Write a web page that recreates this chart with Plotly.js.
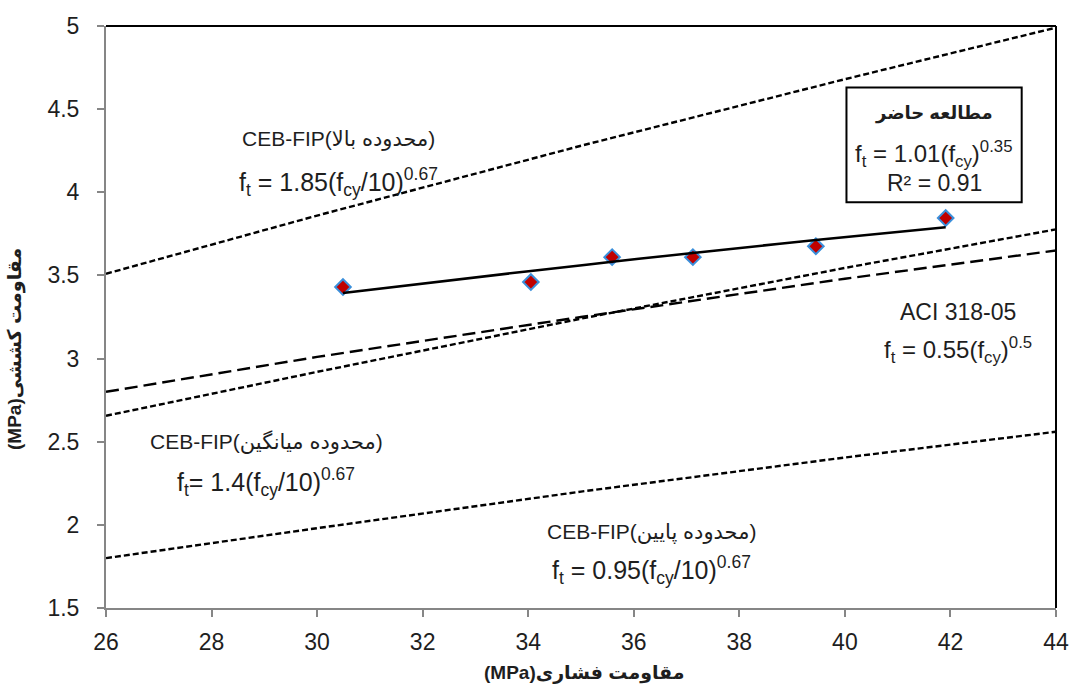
<!DOCTYPE html>
<html>
<head>
<meta charset="utf-8">
<script src="https://cdn.plot.ly/plotly-3.0.1.min.js"></script>
</head>
<body style="margin:0;background:#fff">
<div id="chart" style="width:1072px;height:684px"></div>
<script>
// Measured data (compressive strength vs tensile strength)
const fcy = [30.49, 34.05, 35.59, 37.12, 39.45, 41.91];
const ft = [3.43, 3.46, 3.61, 3.61, 3.675, 3.845];
// Power trendline read at the same x positions
const fitY = [3.395, 3.527, 3.582, 3.635, 3.713, 3.79];
// Reference code lines
const refX = [26, 30, 35, 40, 44];
const cebUpper = [3.51, 3.86, 4.28, 4.68, 4.99];
const cebMean = [2.656, 2.92, 3.24, 3.545, 3.777];
const cebLower = [1.80, 1.98, 2.20, 2.405, 2.56];
const aci = [2.80, 3.01, 3.25, 3.48, 3.65];

const xTitle = '(MPa)مقاومت فشاری';
const yTitle = '(MPa)مقاومت کششی';

const FONT = 'Liberation Sans, Arial, DejaVu Sans, sans-serif';
const TXT = '#1e1e1e';

const traces = [
  {x: refX, y: cebUpper, mode: 'lines', line: {color: '#000', width: 2.4, dash: '6px,3px'}, hoverinfo: 'skip'},
  {x: refX, y: cebMean, mode: 'lines', line: {color: '#000', width: 2.4, dash: '6px,3px'}, hoverinfo: 'skip'},
  {x: refX, y: cebLower, mode: 'lines', line: {color: '#000', width: 2.4, dash: '6px,3px'}, hoverinfo: 'skip'},
  {x: refX, y: aci, mode: 'lines', line: {color: '#000', width: 2.4, dash: '13px,6px'}, hoverinfo: 'skip'},
  {x: fcy, y: ft, mode: 'markers', marker: {symbol: 'diamond', size: 12, color: '#C00000', line: {color: '#3A8FDB', width: 2}}},
  {x: fcy, y: fitY, mode: 'lines', line: {color: '#000', width: 2.5, shape: 'spline'}, hoverinfo: 'skip'}
];

function ann(x, y, text, size, bold) {
  return {x: x, y: y, xref: 'x', yref: 'y', text: bold ? '<b>' + text + '</b>' : text, showarrow: false,
    font: {family: FONT, size: size, color: TXT}, xanchor: 'center', yanchor: 'middle'};
}

const annotations = [
  ann(30.41, 4.32, 'CEB-FIP(محدوده بالا)', 21),
  ann(30.41, 4.06, 'f<sub>t</sub> = 1.85(f<sub>cy</sub>/10)<sup>0.67</sup>', 25),
  ann(29.04, 2.50, 'CEB-FIP(محدوده میانگین)', 21),
  ann(29.04, 2.26, 'f<sub>t</sub>= 1.4(f<sub>cy</sub>/10)<sup>0.67</sup>', 25),
  ann(36.34, 1.96, 'CEB-FIP(محدوده پایین)', 21),
  ann(36.34, 1.73, 'f<sub>t</sub> = 0.95(f<sub>cy</sub>/10)<sup>0.67</sup>', 25),
  ann(42.14, 3.28, 'ACI 318-05', 23),
  ann(42.14, 3.05, 'f<sub>t</sub> = 0.55(f<sub>cy</sub>)<sup>0.5</sup>', 24),
  ann(41.69, 4.475, 'مطالعه حاضر', 18, true),
  ann(41.69, 4.233, 'f<sub>t</sub> = 1.01(f<sub>cy</sub>)<sup>0.35</sup>', 24),
  ann(41.69, 4.053, 'R² = 0.91', 23),
  {x: 0.504, y: -0.1117, xref: 'paper', yref: 'paper', text: '<b>' + xTitle + '</b>', showarrow: false,
   font: {family: FONT, size: 19, color: TXT}, xanchor: 'center', yanchor: 'middle'},
  {x: -0.0958, y: 0.445, xref: 'paper', yref: 'paper', text: '<b>' + yTitle + '</b>', showarrow: false, textangle: -90,
   font: {family: FONT, size: 19, color: TXT}, xanchor: 'center', yanchor: 'middle'}
];

const shapes = [
  {type: 'line', xref: 'paper', yref: 'paper', x0: 0, x1: 1, y0: 1, y1: 1, line: {color: '#000', width: 2}},
  {type: 'line', xref: 'paper', yref: 'paper', x0: 1, x1: 1, y0: 0, y1: 1, line: {color: '#000', width: 2}},
  {type: 'rect', xref: 'x', yref: 'y', x0: 40.03, x1: 43.35, y0: 3.94, y1: 4.63, line: {color: '#000', width: 2}, fillcolor: 'rgba(0,0,0,0)'}
];

const axisCommon = {
  showgrid: false, zeroline: false, showline: true, linecolor: '#868686', linewidth: 2,
  ticks: 'outside', ticklen: 7, tickwidth: 2, tickcolor: '#868686',
  tickfont: {family: FONT, size: 23, color: TXT}
};

const layout = {
  width: 1072, height: 684,
  margin: {l: 106, r: 16, t: 26, b: 76},
  paper_bgcolor: '#fff', plot_bgcolor: '#fff',
  showlegend: false,
  xaxis: Object.assign({}, axisCommon, {range: [26, 44], tick0: 26, dtick: 2, ticklabelstandoff: 5}),
  yaxis: Object.assign({}, axisCommon, {range: [1.5, 5], tick0: 1.5, dtick: 0.5, ticklabelstandoff: 13}),
  annotations: annotations,
  shapes: shapes
};

Plotly.newPlot('chart', traces, layout, {staticPlot: true});
</script>
</body>
</html>
